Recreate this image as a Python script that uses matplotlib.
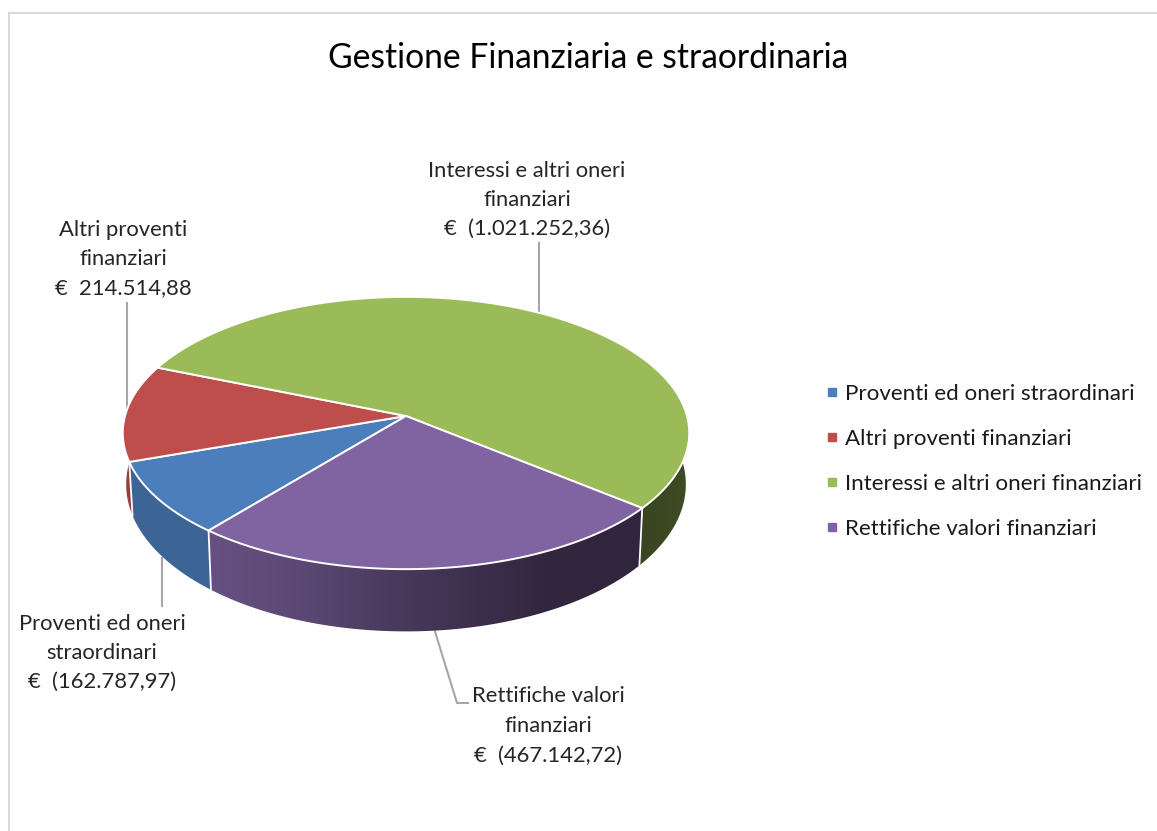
import numpy as np
import matplotlib
matplotlib.use("Agg")
import matplotlib.pyplot as plt
from matplotlib.lines import Line2D
from matplotlib.patches import Polygon

#chart data
categories = ["Proventi ed oneri straordinari", "Altri proventi finanziari",
              "Interessi e altri oneri finanziari", "Rettifiche valori finanziari"]
values = [162787.97, 214514.88, 1021252.36, 467142.72]
value_labels = ["€  (162.787,97)", "€  214.514,88", "€  (1.021.252,36)", "€  (467.142,72)"]
label_lines = [["Proventi ed oneri", "straordinari"], ["Altri proventi", "finanziari"],
               ["Interessi e altri oneri", "finanziari"], ["Rettifiche valori", "finanziari"]]
title = "Gestione Finanziaria e straordinaria"

#colors of the top faces
colors = ["#4C7EBB", "#BE4E4B", "#9BBB59", "#8064A2"]

plt.rcParams["font.family"] = ["Lato", "DejaVu Sans"]

W, H = 1157, 831
fig = plt.figure(figsize=(W / 100, H / 100), dpi=100)
ax = fig.add_axes([0, 0, 1, 1])
ax.axis("off")

#pie geometry, a tilted disc seen in perspective
cx, cy = 406, 416
rad_x, rad_y = 281, 134
k = 0.125
start = 230.6


def top_rim(t):
    t = np.radians(t)
    w = 1 + k * np.sin(t)
    return cx + rad_x * np.cos(t) / w, cy - rad_y * np.sin(t) / w


def low_rim(t):
    x, y = top_rim(t)
    return cx + 0.988 * (x - cx), cy + 50 + 1.08 * (y - cy)


#slices go clockwise from the start angle
bounds = start - np.concatenate([[0], np.cumsum(values)]) / np.sum(values) * 360

#frame of the chart area
ax.plot([8.5, 8.5, W], [H, 12.5, 12.5], color="#D9D9D9", lw=1.5, solid_joinstyle="miter")

#leader lines, under the pie
leaders = [([162, 162], [558, 606]), ([127, 127], [303, 420]),
           ([539, 539], [243, 320]), ([433, 457, 468], [625, 703, 703])]
for lx, ly in leaders:
    ax.plot(lx, ly, color="#A6A6A6", lw=1.5, zorder=1)

#side walls, one gradient image per slice clipped to the wall shape
shade_x = np.arange(110, 700)
shade = np.interp(shade_x, [120, 208, 300, 406, 545, 640, 690],
                  [0.8, 0.8, 0.72, 0.56, 0.39, 0.37, 0.40])
for i in range(4):
    base = np.array(matplotlib.colors.to_rgb(colors[i]))
    t_all = np.arange(bounds[i + 1], bounds[i] + 0.5, 0.5)
    t_all = t_all[(t_all % 360 > 170) | (t_all % 360 < 10)]
    x_top, y_top = top_rim(t_all)
    x_low, y_low = low_rim(t_all)
    pts = list(zip(x_top, y_top)) + list(zip(x_low[::-1], y_low[::-1]))
    wall = Polygon(pts, closed=True, fc="none", ec="none", transform=ax.transData)
    ax.add_patch(wall)
    grad = shade[None, :, None] * base[None, None, :]
    im = ax.imshow(grad, extent=(110, 700, 700, 400), aspect="auto", zorder=2,
                   interpolation="bilinear")
    im.set_clip_path(wall)

ax.set_xlim(0, W)
ax.set_ylim(H, 0)

#white seams between the walls
for b in bounds[:4]:
    if 170 < b % 360 < 370:
        x1, y1 = top_rim(b)
        x2, y2 = low_rim(b)
        ax.plot([x1, x2], [y1, y2], color="white", lw=1.3, zorder=3)

#top faces
for i in range(4):
    ts = np.linspace(bounds[i + 1], bounds[i], 200)
    xs, ys = top_rim(ts)
    pts = [(cx, cy)] + list(zip(xs, ys))
    ax.add_patch(Polygon(pts, closed=True, fc=colors[i], ec="white", lw=1.4,
                         joinstyle="round", zorder=4))

#data labels
label_x = [102, 123, 527, 548]
label_y = [624, 230, 171, 696]
line_step = [29, 29, 29, 30]
for i in range(4):
    lines = label_lines[i] + [value_labels[i]]
    for j, s in enumerate(lines):
        ax.text(label_x[i], label_y[i] + j * line_step[i], s, ha="center", va="center",
                fontsize=15.8, color="#262626", zorder=6)

ax.text(588, 58, title, ha="center", va="center", fontsize=24.2, color="black")

#legend
handles = [Line2D([], [], ls="", marker="s", ms=6.2, color=c) for c in colors]
ax.legend(handles, categories, loc="center left", bbox_to_anchor=(814 / W, 1 - 461.5 / H),
          frameon=False, fontsize=16.1, handlelength=0.6, handletextpad=0.3,
          labelspacing=1.126, borderpad=0, labelcolor="#1A1A1A")

fig.savefig("out.png", dpi=100)
